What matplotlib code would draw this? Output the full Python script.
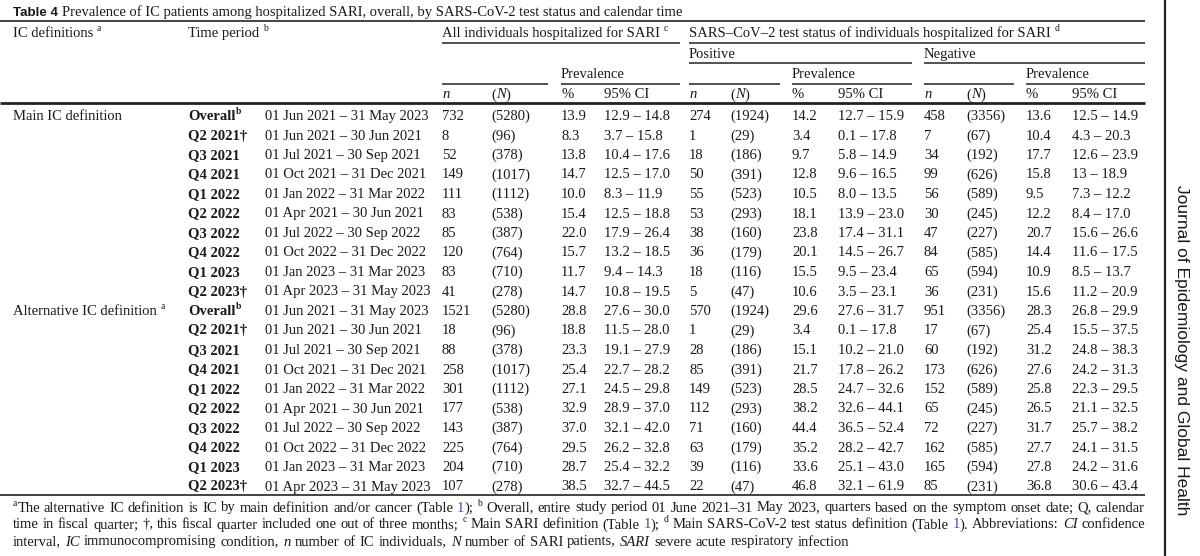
import matplotlib
matplotlib.use("Agg")
import matplotlib.pyplot as plt

# ---------------- data ----------------
periods = ["Overall", "Q2 2021†", "Q3 2021", "Q4 2021", "Q1 2022", "Q2 2022",
           "Q3 2022", "Q4 2022", "Q1 2023", "Q2 2023†"]
date_ranges = ["01 Jun 2021 – 31 May 2023", "01 Jun 2021 – 30 Jun 2021",
               "01 Jul 2021 – 30 Sep 2021", "01 Oct 2021 – 31 Dec 2021",
               "01 Jan 2022 – 31 Mar 2022", "01 Apr 2021 – 30 Jun 2021",
               "01 Jul 2022 – 30 Sep 2022", "01 Oct 2022 – 31 Dec 2022",
               "01 Jan 2023 – 31 Mar 2023", "01 Apr 2023 – 31 May 2023"]

N_all = [5280, 96, 378, 1017, 1112, 538, 387, 764, 710, 278]
N_pos = [1924, 29, 186, 391, 523, 293, 160, 179, 116, 47]
N_neg = [3356, 67, 192, 626, 589, 245, 227, 585, 594, 231]

# Main IC definition
main_n_all = [732, 8, 52, 149, 111, 83, 85, 120, 83, 41]
main_pct_all = [13.9, 8.3, 13.8, 14.7, 10.0, 15.4, 22.0, 15.7, 11.7, 14.7]
main_ci_all = ["12.9 – 14.8", "3.7 – 15.8", "10.4 – 17.6", "12.5 – 17.0", "8.3 – 11.9",
               "12.5 – 18.8", "17.9 – 26.4", "13.2 – 18.5", "9.4 – 14.3", "10.8 – 19.5"]
main_n_pos = [274, 1, 18, 50, 55, 53, 38, 36, 18, 5]
main_pct_pos = [14.2, 3.4, 9.7, 12.8, 10.5, 18.1, 23.8, 20.1, 15.5, 10.6]
main_ci_pos = ["12.7 – 15.9", "0.1 – 17.8", "5.8 – 14.9", "9.6 – 16.5", "8.0 – 13.5",
               "13.9 – 23.0", "17.4 – 31.1", "14.5 – 26.7", "9.5 – 23.4", "3.5 – 23.1"]
main_n_neg = [458, 7, 34, 99, 56, 30, 47, 84, 65, 36]
main_pct_neg = [13.6, 10.4, 17.7, 15.8, 9.5, 12.2, 20.7, 14.4, 10.9, 15.6]
main_ci_neg = ["12.5 – 14.9", "4.3 – 20.3", "12.6 – 23.9", "13 – 18.9", "7.3 – 12.2",
               "8.4 – 17.0", "15.6 – 26.6", "11.6 – 17.5", "8.5 – 13.7", "11.2 – 20.9"]

# Alternative IC definition
alt_n_all = [1521, 18, 88, 258, 301, 177, 143, 225, 204, 107]
alt_pct_all = [28.8, 18.8, 23.3, 25.4, 27.1, 32.9, 37.0, 29.5, 28.7, 38.5]
alt_ci_all = ["27.6 – 30.0", "11.5 – 28.0", "19.1 – 27.9", "22.7 – 28.2", "24.5 – 29.8",
              "28.9 – 37.0", "32.1 – 42.0", "26.2 – 32.8", "25.4 – 32.2", "32.7 – 44.5"]
alt_n_pos = [570, 1, 28, 85, 149, 112, 71, 63, 39, 22]
alt_pct_pos = [29.6, 3.4, 15.1, 21.7, 28.5, 38.2, 44.4, 35.2, 33.6, 46.8]
alt_ci_pos = ["27.6 – 31.7", "0.1 – 17.8", "10.2 – 21.0", "17.8 – 26.2", "24.7 – 32.6",
              "32.6 – 44.1", "36.5 – 52.4", "28.2 – 42.7", "25.1 – 43.0", "32.1 – 61.9"]
alt_n_neg = [951, 17, 60, 173, 152, 65, 72, 162, 165, 85]
alt_pct_neg = [28.3, 25.4, 31.2, 27.6, 25.8, 26.5, 31.7, 27.7, 27.8, 36.8]
alt_ci_neg = ["26.8 – 29.9", "15.5 – 37.5", "24.8 – 38.3", "24.2 – 31.3", "22.3 – 29.5",
              "21.1 – 32.5", "25.7 – 38.2", "24.1 – 31.5", "24.2 – 31.6", "30.6 – 43.4"]

definitions = ["Main IC definition", "Alternative IC definition"]
def_sup = ["", "a"]

# ---------------- layout ----------------
W, H = 1200, 556
fig = plt.figure(figsize=(W / 100, H / 100), dpi=100)
ax = fig.add_axes([0, 0, 1, 1])
ax.set_xlim(0, W)
ax.set_ylim(H, 0)
ax.axis("off")
fig.canvas.draw()
renderer = fig.canvas.get_renderer()

SERIF = "Liberation Serif"
SANS = "Liberation Sans"
FS = 10.5
TXT = "#1a1a1a"
BLUE = "#2f55a4"
LINE = "#222222"


def seg_text(x, y, s, st):
    size = FS * (0.66 if st.get("sup") else 1.0) * st.get("scale", 1.0)
    dy = -6.0 * st.get("scale", 1.0) if st.get("sup") else 0
    t = ax.text(x, y + dy, s, fontsize=size, family=st.get("family", SERIF),
                weight=st.get("weight", "normal"), style=st.get("style", "normal"),
                color=st.get("color", TXT), ha="left", va="baseline")
    w = t.get_window_extent(renderer).width
    return t, w


def rich(x, y, segs):
    cx = x
    for s, st in segs:
        _, w = seg_text(cx, y, s, st)
        cx += w
    return cx


def to_words(segs):
    words = [[]]
    for text, st in segs:
        parts = text.split(" ")
        for k, p in enumerate(parts):
            if k > 0:
                words.append([])
            if p:
                words[-1].append((p, st))
    return [w for w in words if w]


def justified(x0, x1, y, segs, justify=True, scale=1.0):
    words = to_words(segs)
    words = [[(s, dict(st, scale=scale)) for s, st in w] for w in words]
    widths = []
    for w in words:
        tot = 0
        for s, st in w:
            t, ww = seg_text(0, -100, s, st)
            t.remove()
            tot += ww
        widths.append(tot)
    t, sp = seg_text(0, -100, "a a", {"scale": scale})
    t.remove()
    t, aa = seg_text(0, -100, "aa", {"scale": scale})
    t.remove()
    space = sp - aa
    if justify and len(words) > 1:
        gap = (x1 - x0 - sum(widths)) / (len(words) - 1)
    else:
        gap = space * 1.15
    cx = x0
    for w, ww in zip(words, widths):
        rich(cx, y, w)
        cx += ww + gap


def hline(x0, x1, y, lw=1.1):
    ax.plot([x0, x1], [y, y], color=LINE, lw=lw, solid_capstyle="butt")


# column x positions
X_DEF, X_PER, X_DATE = 13, 188, 265
X_ALL = [442, 491, 561, 604]
X_POS = [689, 730, 792, 838]
X_NEG = [924, 966, 1026, 1072]
X_RIGHT = 1145
X_ALL_END = 680
X_POS_END = 912

BL = 5.0  # baseline offset from row centre

# ---- title ----
cx = rich(13, 11 + BL, [("Table 4", {"family": SANS, "weight": "bold", "scale": 0.92})])
rich(cx + 4, 11 + BL, [("Prevalence of IC patients among hospitalized SARI, overall, by SARS-CoV-2 test status and calendar time", {})])
hline(0, X_RIGHT, 21, 1.2)

# ---- header ----
yh1 = 32 + BL
rich(X_DEF, yh1, [("IC definitions ", {}), ("a", {"sup": True})])
rich(X_PER, yh1, [("Time period ", {}), ("b", {"sup": True})])
rich(X_ALL[0], yh1, [("All individuals hospitalized for SARI ", {}), ("c", {"sup": True})])
rich(X_POS[0], yh1, [("SARS–CoV–2 test status of individuals hospitalized for SARI ", {}), ("d", {"sup": True})])
hline(X_ALL[0], X_ALL_END, 42.5)
hline(X_POS[0], X_RIGHT, 42.5)

yh2 = 53 + BL
rich(X_POS[0], yh2, [("Positive", {})])
rich(X_NEG[0], yh2, [("Negative", {})])
hline(X_POS[0], X_POS_END, 63)
hline(X_NEG[0], X_RIGHT, 63)

yh3 = 73.5 + BL
for xs in (X_ALL, X_POS, X_NEG):
    rich(xs[2], yh3, [("Prevalence", {})])
hline(X_ALL[0], 548, 83.5)
hline(X_ALL[2], X_ALL_END, 83.5)
hline(X_POS[0], 780, 83.5)
hline(X_POS[2], X_POS_END, 83.5)
hline(X_NEG[0], 1014, 83.5)
hline(X_NEG[2], X_RIGHT, 83.5)

yh4 = 93.5 + BL
for xs in (X_ALL, X_POS, X_NEG):
    rich(xs[0], yh4, [("n", {"style": "italic"})])
    rich(xs[1], yh4, [("(", {}), ("N", {"style": "italic"}), (")", {})])
    rich(xs[2], yh4, [("%", {})])
    rich(xs[3], yh4, [("95% CI", {})])
hline(0, X_RIGHT, 103, 2.0)

# ---- body ----
blocks = [
    (main_n_all, main_pct_all, main_ci_all, main_n_pos, main_pct_pos, main_ci_pos,
     main_n_neg, main_pct_neg, main_ci_neg),
    (alt_n_all, alt_pct_all, alt_ci_all, alt_n_pos, alt_pct_pos, alt_ci_pos,
     alt_n_neg, alt_pct_neg, alt_ci_neg),
]
Y0, DY = 115.0, 19.5
for b, blk in enumerate(blocks):
    n_a, p_a, c_a, n_p, p_p, c_p, n_n, p_n, c_n = blk
    for i in range(len(periods)):
        r = b * len(periods) + i
        y = Y0 + r * DY + BL
        if i == 0:
            segs = [(definitions[b], {})]
            if def_sup[b]:
                segs += [(" ", {}), (def_sup[b], {"sup": True})]
            rich(X_DEF, y, segs)
            rich(X_PER, y, [(periods[i], {"weight": "bold"}), ("b", {"sup": True, "weight": "bold"})])
        else:
            rich(X_PER, y, [(periods[i], {"weight": "bold"})])
        rich(X_DATE, y, [(date_ranges[i], {})])
        for xs, nn, NN, pp, cc in ((X_ALL, n_a, N_all, p_a, c_a),
                                   (X_POS, n_p, N_pos, p_p, c_p),
                                   (X_NEG, n_n, N_neg, p_n, c_n)):
            rich(xs[0], y, [(str(nn[i]), {})])
            rich(xs[1], y, [(f"({NN[i]})", {})])
            rich(xs[2], y, [(f"{pp[i]:.1f}", {})])
            rich(xs[3], y, [(cc[i], {})])

y_last = Y0 + 19 * DY
hline(0, X_RIGHT, y_last + 9.5, 1.2)

# ---- footnotes ----
it = {"style": "italic"}
sp = {"sup": True}
bl = {"color": BLUE}
foot1 = [("a", sp), ("The alternative IC definition is IC by main definition and/or cancer (Table ", {}),
         ("1", bl), ("); ", {}), ("b", sp),
         (" Overall, entire study period 01 June 2021–31 May 2023, quarters based on the symptom onset date; Q, calendar", {})]
foot2 = [("time in fiscal quarter; †, this fiscal quarter included one out of three months; ", {}), ("c", sp),
         (" Main SARI definition (Table ", {}), ("1", bl), ("); ", {}), ("d", sp),
         (" Main SARS-CoV-2 test status definition (Table ", {}), ("1", bl), ("). Abbreviations: ", {}),
         ("CI", it), (" confidence", {})]
foot3 = [("interval, ", {}), ("IC", it), (" immunocompromising condition, ", {}), ("n", it),
         (" number of IC individuals, ", {}), ("N", it), (" number of SARI patients, ", {}),
         ("SARI", it), (" severe acute respiratory infection", {})]
FY0, FDY = 506.5, 17.0
justified(13, X_RIGHT, FY0 + BL, foot1, True)
justified(13, X_RIGHT, FY0 + FDY + BL, foot2, True)
justified(13, X_RIGHT, FY0 + 2 * FDY + BL, foot3, False)

# ---- side bar ----
ax.plot([1165, 1165], [0, H], color=LINE, lw=1.6, solid_capstyle="butt")
ax.text(1181, 350, "Journal of Epidemiology and Global Health", rotation=270,
        family=SANS, fontsize=12.5, color=TXT, ha="center", va="center")

fig.savefig("out.png", dpi=100, facecolor="white")
